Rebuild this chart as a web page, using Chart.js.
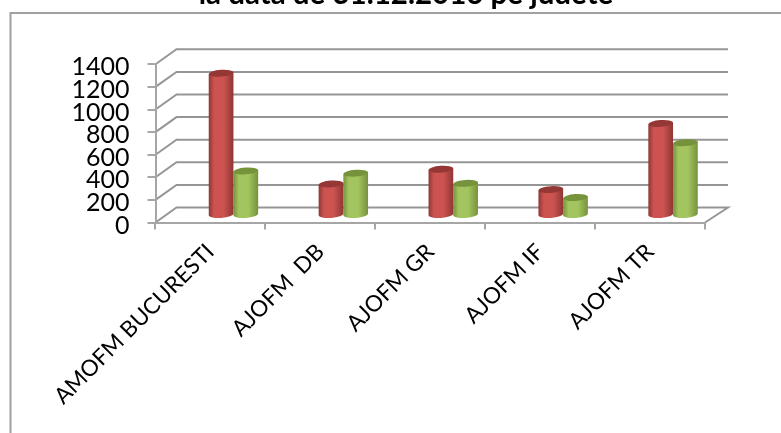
<!DOCTYPE html>
<html>
<head>
<meta charset="utf-8">
<title>Grafic</title>
<script src="https://cdn.jsdelivr.net/npm/chart.js@4"></script>
<style>
  html, body { margin: 0; padding: 0; background: #fff; overflow: hidden; }
  canvas { display: block; }
</style>
</head>
<body>
<!-- panza mai lata decat fereastra: titlul original nu e centrat pe imagine -->
<canvas id="chart" width="812" height="433"></canvas>
<script>
const categories = ["AMOFM BUCURESTI", "AJOFM  DB", "AJOFM GR", "AJOFM IF", "AJOFM TR"];
const redValues = [1255, 275, 405, 225, 810];
const greenValues = [390, 370, 280, 155, 640];
const yTicks = [0, 200, 400, 600, 800, 1000, 1200, 1400];
const titleText = "la data de 31.12.2016 pe judete";

// adancimea pseudo-3D
const depthX = 21, depthY = 15;
const barShiftX = 23, barShiftY = 7;

const shades = {
  red: { edge: "#8e3735", mid: "#cd5350", top: "#953735" },
  green: { edge: "#76923c", mid: "#a3c55f", top: "#76933c" }
};

class CylinderBar extends Chart.BarElement {
  static id = "cylinderBar";
  static defaults = Chart.BarElement.defaults;

  draw(ctx) {
    const s = shades[this.options.backgroundColor];
    const w = this.width;
    const x0 = this.x - w / 2 + barShiftX;
    const x1 = x0 + w;
    const cx = x0 + w / 2;
    const top = this.y - barShiftY - 0.5;
    const bottom = this.base - barShiftY;
    const rx = w / 2, ry = 3.4, tilt = -0.07;

    const grad = ctx.createLinearGradient(x0, 0, x1, 0);
    grad.addColorStop(0, s.edge);
    grad.addColorStop(0.22, s.mid);
    grad.addColorStop(0.6, s.mid);
    grad.addColorStop(1, s.edge);

    ctx.save();
    ctx.fillStyle = grad;
    ctx.beginPath();
    ctx.ellipse(cx, bottom, rx, ry, tilt, 0, Math.PI);
    ctx.lineTo(x0, top + 1);
    ctx.lineTo(x1, top - 1);
    ctx.closePath();
    ctx.fill();

    ctx.fillStyle = s.top;
    ctx.beginPath();
    ctx.ellipse(cx, top, rx, ry, tilt, 0, Math.PI * 2);
    ctx.fill();
    ctx.restore();
  }
}

class CylinderController extends Chart.BarController {
  static id = "cylinder";
  static defaults = { ...Chart.BarController.defaults, dataElementType: "cylinderBar" };
  static overrides = Chart.BarController.overrides;
}

Chart.register(CylinderBar, CylinderController);

const walls = {
  id: "walls",
  beforeDraw(chart) {
    const ctx = chart.ctx;
    const { x, y } = chart.scales;
    const left = x.left, right = x.right;

    // chenarul graficului
    ctx.save();
    ctx.strokeStyle = "#a0a0a0";
    ctx.lineWidth = 2;
    ctx.beginPath();
    ctx.moveTo(10.5, chart.height);
    ctx.lineTo(10.5, 13);
    ctx.lineTo(chart.width, 13);
    ctx.stroke();

    // liniile de grila pe peretii din spate
    ctx.strokeStyle = "#969696";
    yTicks.forEach(v => {
      const py = y.getPixelForValue(v);
      ctx.beginPath();
      ctx.moveTo(left, py);
      ctx.lineTo(left + depthX, py - depthY);
      ctx.lineTo(right + depthX + 2, py - depthY);
      if (v === 0) ctx.lineTo(right, py);
      ctx.stroke();
    });
    ctx.restore();
  }
};

new Chart(document.getElementById("chart"), {
  type: "cylinder",
  plugins: [walls],
  data: {
    labels: categories,
    datasets: [
      { label: "Seria 1", data: redValues, backgroundColor: "red" },
      { label: "Seria 2", data: greenValues, backgroundColor: "green" }
    ]
  },
  options: {
    responsive: false,
    animation: false,
    datasets: { cylinder: { barPercentage: 1, categoryPercentage: 0.45 } },
    scales: {
      x: {
        type: "category",
        offset: true,
        afterFit: s => { s.height = 210.5; },
        border: { color: "#a6a6a6", width: 2 },
        grid: { offset: true, drawOnChartArea: false, color: "#a6a6a6", lineWidth: 2, tickLength: 7 },
        ticks: {
          autoSkip: false, minRotation: 45, maxRotation: 45, padding: 9,
          color: "#000", font: { family: "Lato", size: 22.5 }
        }
      },
      y: {
        type: "linear",
        min: 0,
        max: 1400,
        afterFit: s => { s.width = 155.5; },
        afterBuildTicks: s => { s.ticks = yTicks.map(v => ({ value: v })); },
        border: { color: "#a6a6a6", width: 2 },
        grid: { drawOnChartArea: false, color: "#a6a6a6", lineWidth: 2, tickLength: 8 },
        ticks: {
          autoSkip: false, padding: 18, labelOffset: 3, color: "#000",
          font: { family: "Lato", size: 25 },
          callback: v => String(v)
        }
      },
      // axa goala din dreapta tine locul pana la marginea panzei
      rightSpace: {
        type: "linear",
        position: "right",
        afterFit: s => { s.width = 107; },
        border: { display: false },
        grid: { display: false },
        ticks: { display: false }
      }
    },
    plugins: {
      legend: { display: false },
      tooltip: { enabled: false },
      title: {
        display: true,
        text: titleText,
        color: "#000",
        font: { family: "Lato", size: 29.5, weight: "bold" },
        padding: { top: -23, bottom: 51.9 }
      }
    }
  }
});
</script>
</body>
</html>
